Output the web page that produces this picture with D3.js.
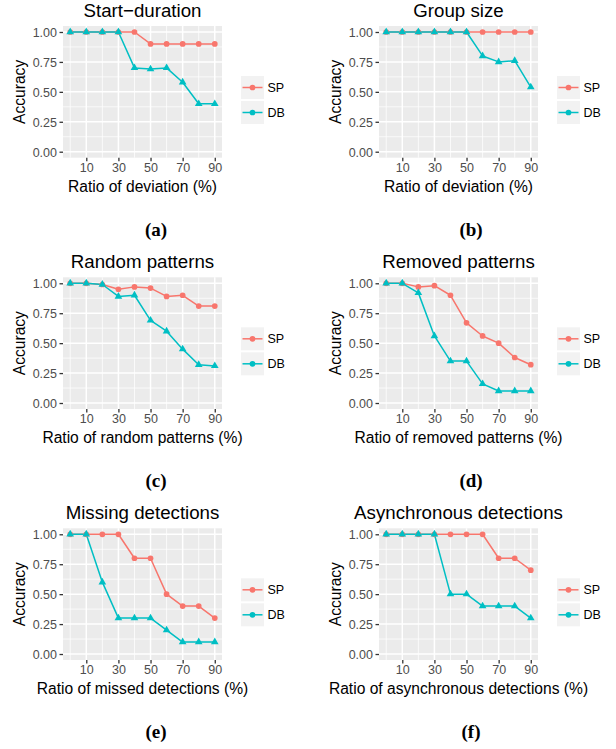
<!DOCTYPE html>
<html>
<head>
<meta charset="utf-8">
<script src="https://cdn.jsdelivr.net/npm/d3@7"></script>
<style>
  body { margin: 0; background: #fff; }
  svg text { font-family: "Liberation Sans", Arial, sans-serif; }
</style>
</head>
<body>
<div id="chart"></div>
<script>
// x values shared by all six panels
const ratios = [0, 10, 20, 30, 40, 50, 60, 70, 80, 90];
const xTicks = [10, 30, 50, 70, 90];
const yTicks = [0, 0.25, 0.5, 0.75, 1];
const seriesNames = ["SP", "DB"];

const titles = ["Start\u2212duration", "Group size", "Random patterns",
  "Removed patterns", "Missing detections", "Asynchronous detections"];
const xLabels = ["Ratio of deviation (%)", "Ratio of deviation (%)",
  "Ratio of random patterns (%)", "Ratio of removed patterns (%)",
  "Ratio of missed detections (%)", "Ratio of asynchronous detections (%)"];
const captions = ["(a)", "(b)", "(c)", "(d)", "(e)", "(f)"];

// accuracy values
const spStart = [1, 1, 1, 1, 1, 0.9, 0.9, 0.9, 0.9, 0.9];
const dbStart = [1, 1, 1, 1, 0.7, 0.69, 0.7, 0.58, 0.4, 0.4];
const spGroup = [1, 1, 1, 1, 1, 1, 1, 1, 1, 1];
const dbGroup = [1, 1, 1, 1, 1, 1, 0.8, 0.75, 0.76, 0.54];
const spRandom = [1, 1, 0.99, 0.95, 0.97, 0.96, 0.89, 0.9, 0.81, 0.81];
const dbRandom = [1, 1, 0.99, 0.89, 0.9, 0.69, 0.6, 0.45, 0.32, 0.31];
const spRemoved = [1, 1, 0.97, 0.98, 0.9, 0.67, 0.56, 0.5, 0.38, 0.32];
const dbRemoved = [1, 1, 0.92, 0.56, 0.35, 0.35, 0.16, 0.1, 0.1, 0.1];
const spMissing = [1, 1, 1, 1, 0.8, 0.8, 0.5, 0.4, 0.4, 0.3];
const dbMissing = [1, 1, 0.6, 0.3, 0.3, 0.3, 0.2, 0.1, 0.1, 0.1];
const spAsync = [1, 1, 1, 1, 1, 1, 1, 0.8, 0.8, 0.7];
const dbAsync = [1, 1, 1, 1, 0.5, 0.5, 0.4, 0.4, 0.4, 0.3];

const spSets = [spStart, spGroup, spRandom, spRemoved, spMissing, spAsync];
const dbSets = [dbStart, dbGroup, dbRandom, dbRemoved, dbMissing, dbAsync];

const colors = { SP: "#F8766D", DB: "#00BFC4" };

const width = 616, height = 749;
const svg = d3.select("#chart").append("svg")
  .attr("width", width)
  .attr("height", height);

// panel layout (pixels)
const colLeft = [63, 379];
const panelW = 159;
const rowTop = [26, 277.3, 528.3];
const panelH = 131.7;
const captionX = [156, 471];
const captionY = [236, 487, 738];

titles.forEach((title, i) => {
  const col = i % 2, row = Math.floor(i / 2);
  const left = colLeft[col], top = rowTop[row];
  const right = left + panelW, bottom = top + panelH;

  const x = d3.scaleLinear().domain([-4.5, 94.5]).range([left, right]);
  const y = d3.scaleLinear().domain([-0.05, 1.05]).range([bottom, top]);

  const g = svg.append("g");

  // panel background
  g.append("rect")
    .attr("x", left).attr("y", top)
    .attr("width", panelW).attr("height", panelH)
    .attr("fill", "#EBEBEB");

  // minor grid
  const yMinor = [0.125, 0.375, 0.625, 0.875];
  const xMinor = [0, 20, 40, 60, 80];
  g.selectAll(".ymin").data(yMinor).enter().append("line")
    .attr("x1", left).attr("x2", right)
    .attr("y1", d => y(d)).attr("y2", d => y(d))
    .attr("stroke", "#fff").attr("stroke-width", 0.75);
  g.selectAll(".xmin").data(xMinor).enter().append("line")
    .attr("y1", top).attr("y2", bottom)
    .attr("x1", d => x(d)).attr("x2", d => x(d))
    .attr("stroke", "#fff").attr("stroke-width", 0.75);

  // major grid
  g.selectAll(".ymaj").data(yTicks).enter().append("line")
    .attr("x1", left).attr("x2", right)
    .attr("y1", d => y(d)).attr("y2", d => y(d))
    .attr("stroke", "#fff").attr("stroke-width", 1.5);
  g.selectAll(".xmaj").data(xTicks).enter().append("line")
    .attr("y1", top).attr("y2", bottom)
    .attr("x1", d => x(d)).attr("x2", d => x(d))
    .attr("stroke", "#fff").attr("stroke-width", 1.5);

  // axes
  const yAxis = g.append("g")
    .attr("transform", `translate(${left},0)`)
    .call(d3.axisLeft(y).tickValues(yTicks).tickFormat(d3.format(".2f"))
      .tickSize(3.5).tickPadding(2.5));
  const xAxis = g.append("g")
    .attr("transform", `translate(0,${bottom})`)
    .call(d3.axisBottom(x).tickValues(xTicks).tickSize(3.5).tickPadding(2));
  [yAxis, xAxis].forEach(a => {
    a.select(".domain").remove();
    a.selectAll(".tick line").attr("stroke", "#333").attr("stroke-width", 1.3);
    a.selectAll(".tick text")
      .attr("fill", "#4D4D4D")
      .style("font-size", "12.5px")
      .style("font-family", '"Liberation Sans", Arial, sans-serif');
  });
  yAxis.selectAll(".tick text").attr("dy", "0.36em");

  // series
  const series = [
    { name: "SP", values: spSets[i] },
    { name: "DB", values: dbSets[i] }
  ];
  const line = d3.line()
    .x((d, j) => x(ratios[j]))
    .y(d => y(d));

  series.forEach(s => {
    g.append("path")
      .datum(s.values)
      .attr("d", line)
      .attr("fill", "none")
      .attr("stroke", colors[s.name])
      .attr("stroke-width", 1.5)
      .attr("stroke-linejoin", "round");
  });

  g.selectAll(".sp").data(series[0].values).enter().append("circle")
    .attr("cx", (d, j) => x(ratios[j]))
    .attr("cy", d => y(d))
    .attr("r", 2.85)
    .attr("fill", colors.SP);

  const tri = d3.symbol().type(d3.symbolTriangle).size(25.5);
  g.selectAll(".db").data(series[1].values).enter().append("path")
    .attr("d", tri)
    .attr("transform", (d, j) => `translate(${x(ratios[j])},${y(d)})`)
    .attr("fill", colors.DB);

  // title
  g.append("text")
    .attr("x", (left + right) / 2)
    .attr("y", top - 9)
    .attr("text-anchor", "middle")
    .style("font-size", "18.7px")
    .text(title);

  // axis titles
  g.append("text")
    .attr("x", (left + right) / 2)
    .attr("y", bottom + 34)
    .attr("text-anchor", "middle")
    .style("font-size", "15.6px")
    .text(xLabels[i]);
  g.append("text")
    .attr("transform", `translate(${left - 38},${(top + bottom) / 2}) rotate(-90)`)
    .attr("text-anchor", "middle")
    .style("font-size", "15.6px")
    .text("Accuracy");

  // legend
  const keyX = right + 19, keySize = 23;
  seriesNames.forEach((name, k) => {
    const ky = top + 50 + k * (keySize + 2);
    const lg = g.append("g");
    lg.append("rect")
      .attr("x", keyX).attr("y", ky)
      .attr("width", keySize).attr("height", keySize)
      .attr("fill", "#F2F2F2");
    lg.append("line")
      .attr("x1", keyX + 1.5).attr("x2", keyX + keySize - 1.5)
      .attr("y1", ky + keySize / 2).attr("y2", ky + keySize / 2)
      .attr("stroke", colors[name]).attr("stroke-width", 1.5);
    lg.append("circle")
      .attr("cx", keyX + keySize / 2).attr("cy", ky + keySize / 2)
      .attr("r", 2.85).attr("fill", colors[name]);
    lg.append("text")
      .attr("x", keyX + keySize + 3.5)
      .attr("y", ky + keySize / 2)
      .attr("dy", "0.36em")
      .style("font-size", "12.5px")
      .text(name);
  });

  // sub-figure caption
  svg.append("text")
    .attr("x", captionX[col])
    .attr("y", captionY[row])
    .attr("text-anchor", "middle")
    .style("font-family", '"Liberation Serif", "Times New Roman", serif')
    .style("font-weight", "bold")
    .style("font-size", "19px")
    .text(captions[i]);
});
</script>
</body>
</html>
